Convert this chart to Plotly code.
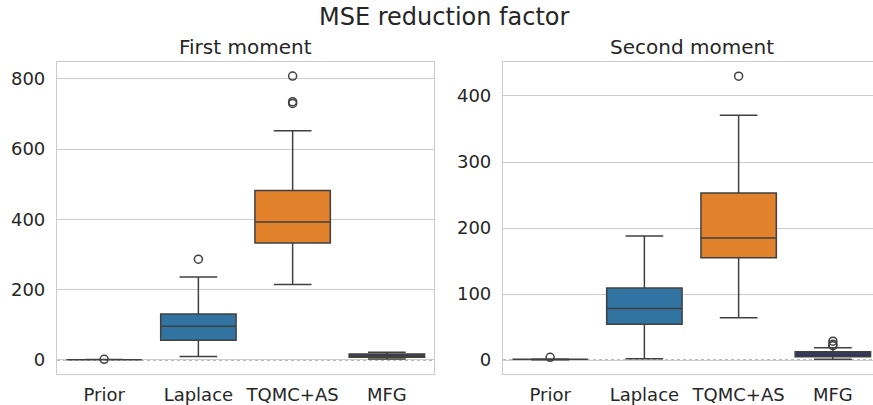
import plotly.graph_objects as go

categories = ["Prior", "Laplace", "TQMC+AS", "MFG"]

# First moment stats: q1, median, q3, lower whisker, upper whisker
m1_q1 = [1, 56, 333, 8]
m1_med = [1, 96, 393, 12]
m1_q3 = [1, 131, 482, 17]
m1_lo = [0.5, 10, 215, 3]
m1_hi = [1.5, 236, 652, 22]
m1_out = [[2], [287], [808, 735, 730], []]

# Second moment stats
m2_q1 = [1, 54, 155, 5]
m2_med = [1, 78, 185, 9]
m2_q3 = [1, 109, 253, 12.6]
m2_lo = [0.5, 2, 64, 1]
m2_hi = [1.5, 188, 371, 18.6]
m2_out = [[4], [], [430], [28.6, 24, 21.6]]

colors = ["#3a923a", "#3274a1", "#e1812c", "#2e2e6e"]
edge = "#404040"

fig = go.Figure()

def add_panel(xa, ya, q1, med, q3, lo, hi, outs):
    for i, c in enumerate(categories):
        fig.add_trace(go.Box(
            x=[c], q1=[q1[i]], median=[med[i]], q3=[q3[i]],
            lowerfence=[lo[i]], upperfence=[hi[i]],
            fillcolor=colors[i], line=dict(color=edge, width=1.5),
            width=0.8, whiskerwidth=0.5, boxpoints=False,
            xaxis=xa, yaxis=ya, showlegend=False, hoverinfo="skip"))
        if outs[i]:
            fig.add_trace(go.Scatter(
                x=[c] * len(outs[i]), y=outs[i], mode="markers",
                marker=dict(symbol="circle-open", size=8, color=edge, line=dict(width=1.5)),
                xaxis=xa, yaxis=ya, showlegend=False, hoverinfo="skip"))

add_panel("x", "y", m1_q1, m1_med, m1_q3, m1_lo, m1_hi, m1_out)
add_panel("x2", "y2", m2_q1, m2_med, m2_q3, m2_lo, m2_hi, m2_out)

W, H = 873, 405
def dx(px):
    return min(px / W, 1.0)
def dy(py):
    return 1 - py / H

# right panel runs from x 503 to 880 (cut at the window edge 873)
r_px_per_cat = (880 - 503) / 4.0
r_xmax = 3.5 - (880 - 873) / r_px_per_cat

font = "DejaVu Sans"
tf = dict(family=font, size=18, color="#262626")
fig.update_layout(
    width=W, height=H,
    margin=dict(l=0, r=0, t=0, b=0),
    paper_bgcolor="white", plot_bgcolor="white",
    boxmode="overlay",
    xaxis=dict(domain=[dx(57), dx(434)], anchor="y", categoryorder="array", categoryarray=categories,
               showgrid=False, ticks="", range=[-0.5, 3.5], showline=True, linecolor="#cccccc",
               linewidth=1.2, mirror=True, automargin=False, tickfont=tf, ticklabelstandoff=4),
    yaxis=dict(domain=[dy(374), dy(62)], anchor="x", range=[-39.9, 848],
               tickvals=[0, 200, 400, 600, 800], showgrid=True, gridcolor="#cccccc",
               zeroline=False, ticks="", showline=True, linecolor="#cccccc",
               linewidth=1.2, mirror=True, automargin=False, tickfont=tf, ticklabelstandoff=7),
    xaxis2=dict(domain=[dx(503), dx(873)], anchor="y2", categoryorder="array", categoryarray=categories,
                showgrid=False, ticks="", range=[-0.5, r_xmax], showline=True, linecolor="#cccccc",
                linewidth=1.2, mirror=True, automargin=False, tickfont=tf, ticklabelstandoff=4),
    yaxis2=dict(domain=[dy(374), dy(62)], anchor="x2", range=[-21.2, 451.5],
                tickvals=[0, 100, 200, 300, 400], showgrid=True, gridcolor="#cccccc",
                zeroline=False, ticks="", showline=True, linecolor="#cccccc",
                linewidth=1.2, mirror=False, automargin=False, tickfont=tf, ticklabelstandoff=7),
    shapes=[
        dict(type="line", xref="x domain", yref="y", x0=0, x1=1, y0=0, y1=0,
             line=dict(color="#777777", width=1.2, dash="dot"), layer="below"),
        dict(type="line", xref="x2 domain", yref="y2", x0=0, x1=1, y0=0, y1=0,
             line=dict(color="#777777", width=1.2, dash="dot"), layer="below"),
    ],
    annotations=[
        dict(text="MSE reduction factor", x=dx(445), y=dy(17), xref="paper", yref="paper",
             xanchor="center", yanchor="middle", showarrow=False,
             font=dict(family=font, size=24, color="#262626")),
        dict(text="First moment", x=dx(245.5), y=dy(47), xref="paper", yref="paper",
             xanchor="center", yanchor="middle", showarrow=False,
             font=dict(family=font, size=20, color="#262626")),
        dict(text="Second moment", x=dx(691.5), y=dy(47), xref="paper", yref="paper",
             xanchor="center", yanchor="middle", showarrow=False,
             font=dict(family=font, size=20, color="#262626")),
    ],
)

fig.write_html("out.html", config={"displayModeBar": False},
               post_script="document.body.style.margin='0px';")
